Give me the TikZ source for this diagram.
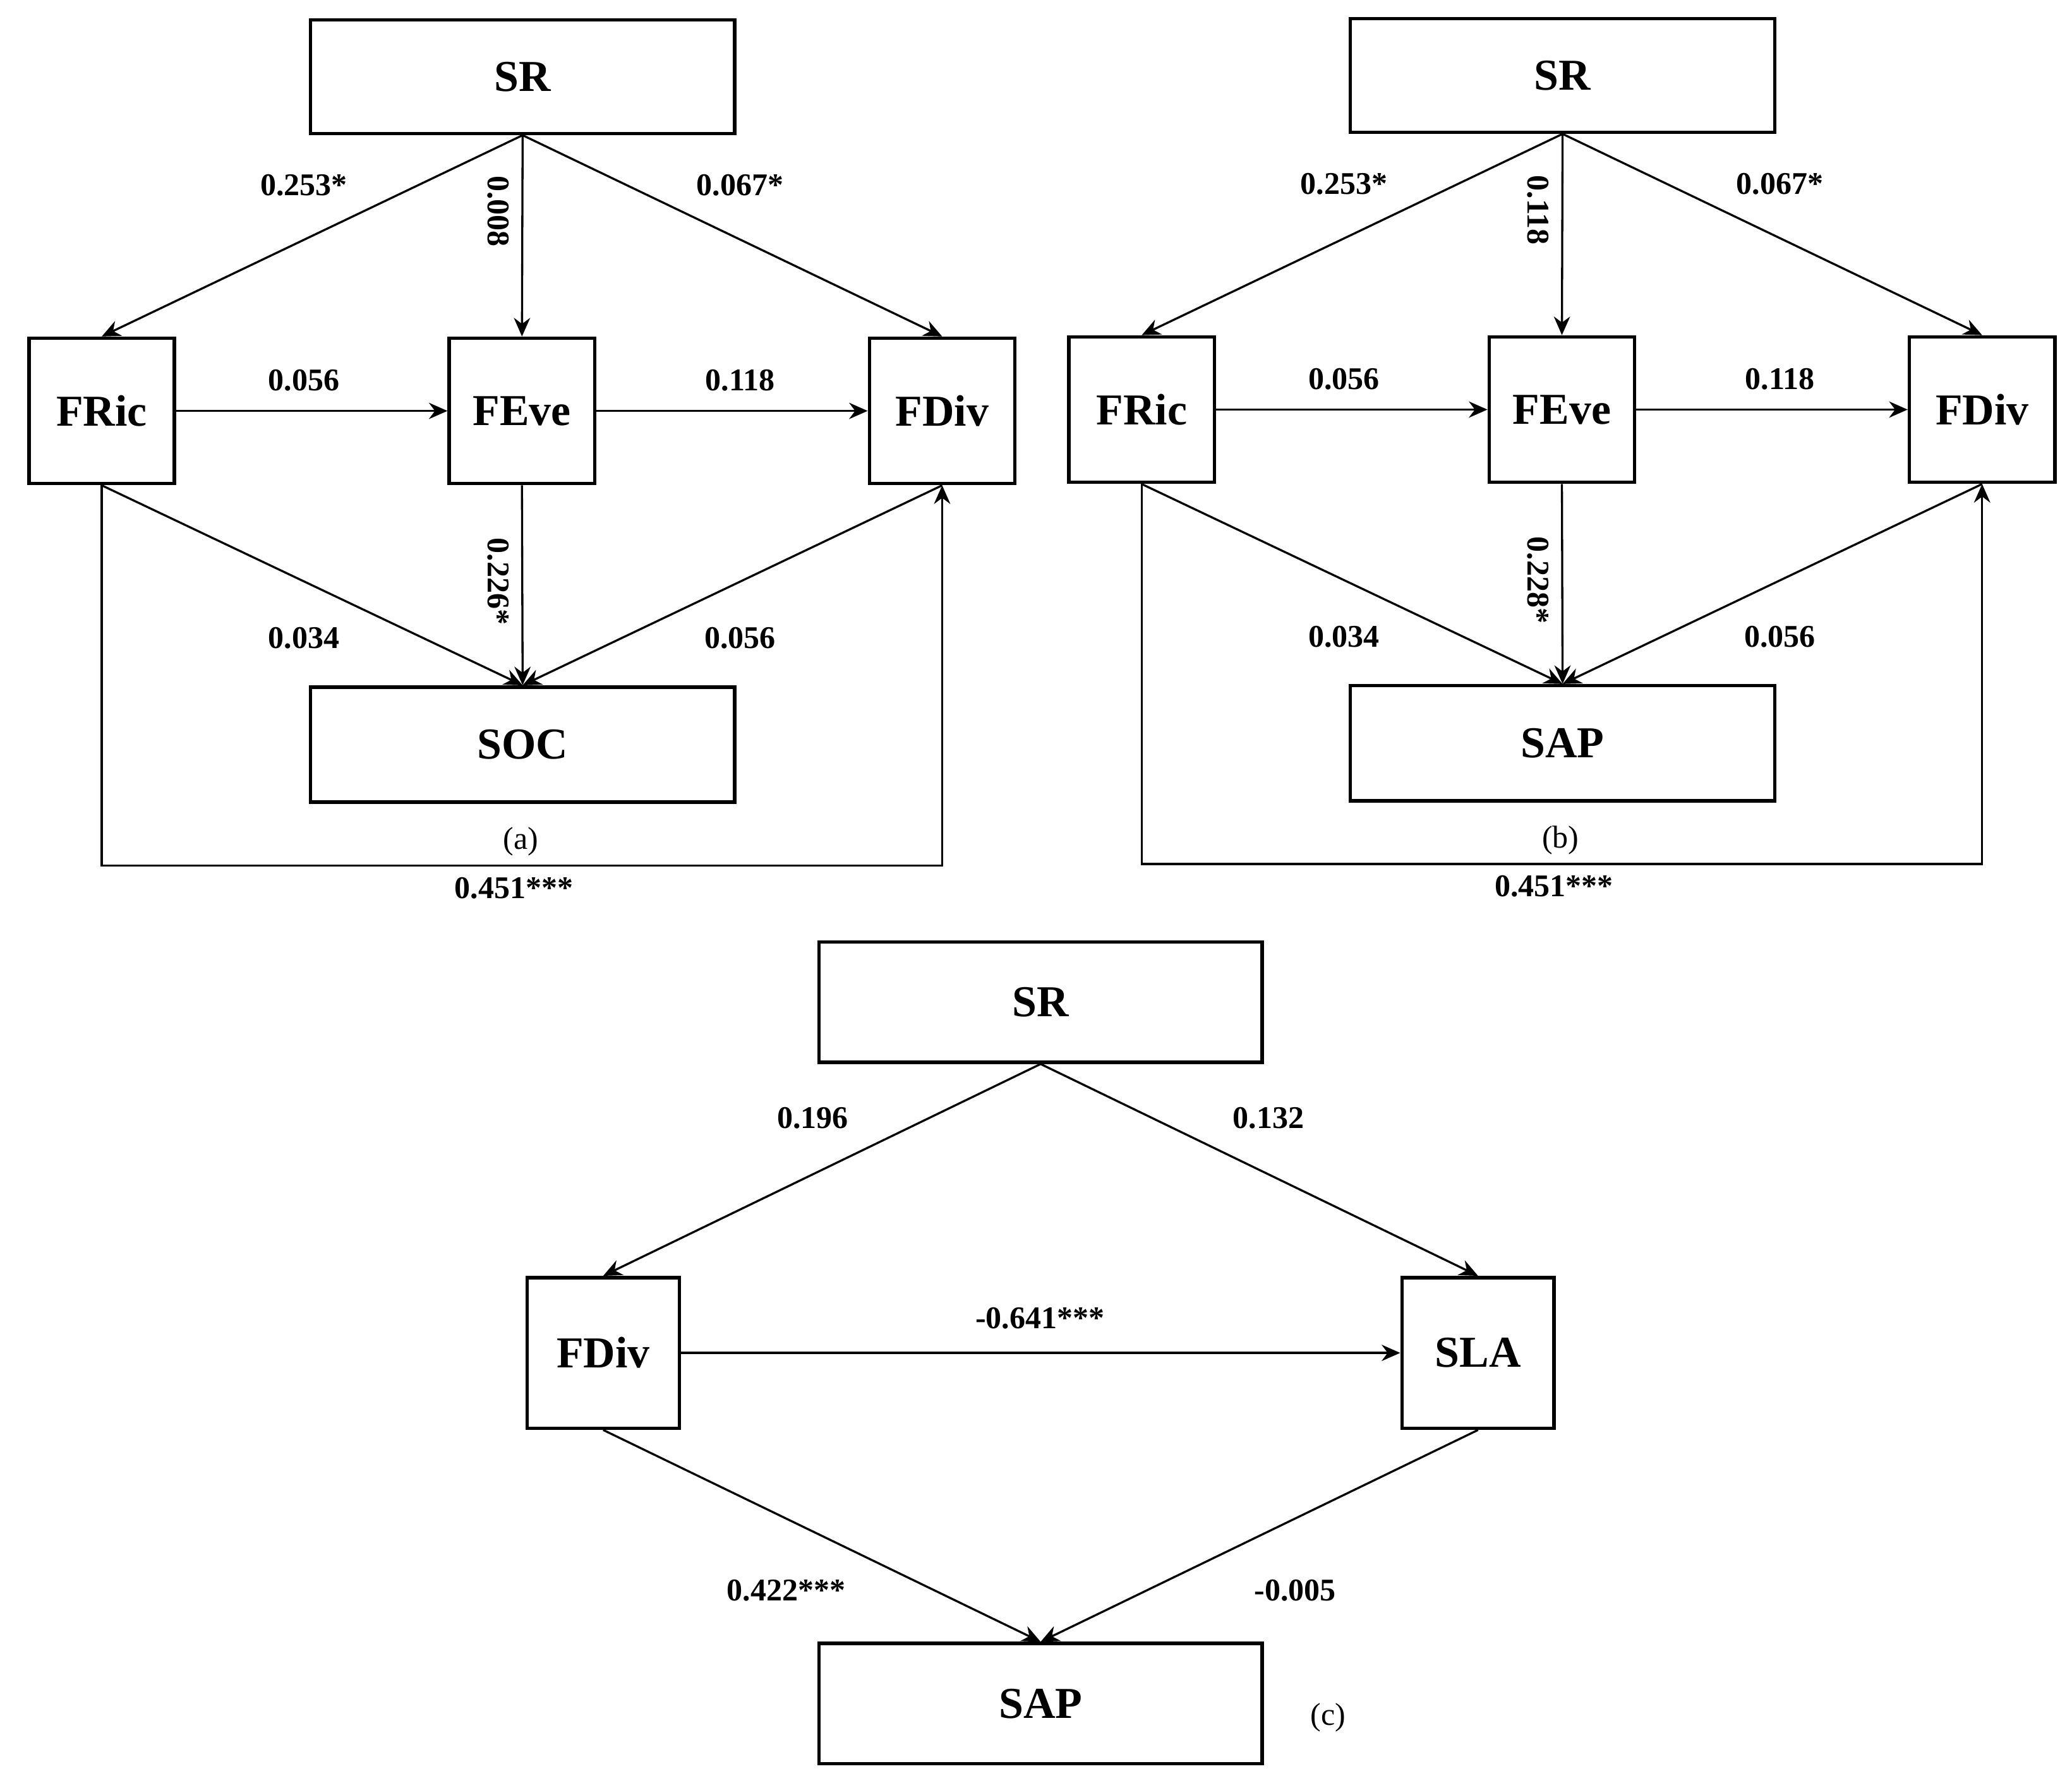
\documentclass[tikz,border=0pt]{standalone}
\usepackage{fontspec}
\setmainfont{Liberation Serif}
\usetikzlibrary{arrows.meta}
\begin{document}
\begin{tikzpicture}[x=0.01cm,y=-0.01cm,
 box/.style={draw,line width=0.75pt,inner sep=0pt,font=\fontsize{9.5}{10}\selectfont\bfseries},
 ar/.style={line width=0.45pt,-{Stealth[length=4pt,width=3.5pt]}},
 lb/.style={font=\fontsize{6.8}{8}\selectfont\bfseries},
 capt/.style={font=\fontsize{6.8}{8}\selectfont}]
\useasboundingbox (0,0) rectangle (1568,1353);
\foreach \dx/\dy/\out/\va/\vb/\cp in {0/0/SOC/0.008/0.226*/(a),787/-1/SAP/0.118/0.228*/(b)}{
 \begin{scope}[shift={(\dx,\dy)}]
 \node[box,minimum width=3.21cm,minimum height=0.86cm] (sr) at (395.5,58) {SR};
 \node[box,minimum width=1.1cm,minimum height=1.1cm] (fr) at (77,311) {FRic};
 \node[box,minimum width=1.1cm,minimum height=1.1cm] (fe) at (395,311) {FEve};
 \node[box,minimum width=1.1cm,minimum height=1.1cm] (fd) at (713,311) {FDiv};
 \node[box,minimum width=3.21cm,minimum height=0.87cm] (o) at (395.5,563.5) {\out};
 \draw[ar] (sr.south) -- (fr.north);
 \draw[ar] (sr.south) -- (fe.north);
 \draw[ar] (sr.south) -- (fd.north);
 \draw[ar] (fr) -- (fe);
 \draw[ar] (fe) -- (fd);
 \draw[ar] (fr.south) -- (o.north);
 \draw[ar] (fe.south) -- (o.north);
 \draw[ar] (fd.south) -- (o.north);
 \coordinate (c1) at (77,655); \coordinate (c2) at (713,655);
 \draw[ar] (fr.south) -- (c1) -- (c2) -- (fd.south);
 \node[lb] at (230,140) {0.253*};
 \node[lb,rotate=-90] at (377,160) {\va};
 \node[lb] at (560,140) {0.067*};
 \node[lb] at (230,288) {0.056};
 \node[lb] at (560,288) {0.118};
 \node[lb,rotate=-90] at (377,440) {\vb};
 \node[lb] at (230,483) {0.034};
 \node[lb] at (560,483) {0.056};
 \node[capt] at (394,637) {\cp};
 \node[lb] at (389,672) {0.451***};
 \end{scope}}
\node[box,minimum width=3.35cm,minimum height=0.91cm] (sr) at (787.5,758.5) {SR};
\node[box,minimum width=1.15cm,minimum height=1.14cm] (fd) at (456.5,1024) {FDiv};
\node[box,minimum width=1.15cm,minimum height=1.14cm] (sl) at (1118.5,1024) {SLA};
\node[box,minimum width=3.35cm,minimum height=0.91cm] (sp) at (787.5,1289.5) {SAP};
\draw[ar] (sr.south) -- (fd.north);
\draw[ar] (sr.south) -- (sl.north);
\draw[ar] (fd) -- (sl);
\draw[ar] (fd.south) -- (sp.north);
\draw[ar] (sl.south) -- (sp.north);
\node[lb] at (615,846) {0.196};
\node[lb] at (960,846) {0.132};
\node[lb] at (787,998) {-0.641***};
\node[lb] at (595,1204) {0.422***};
\node[lb] at (980,1204) {-0.005};
\node[capt] at (1005,1300) {(c)};
\end{tikzpicture}
\end{document}
